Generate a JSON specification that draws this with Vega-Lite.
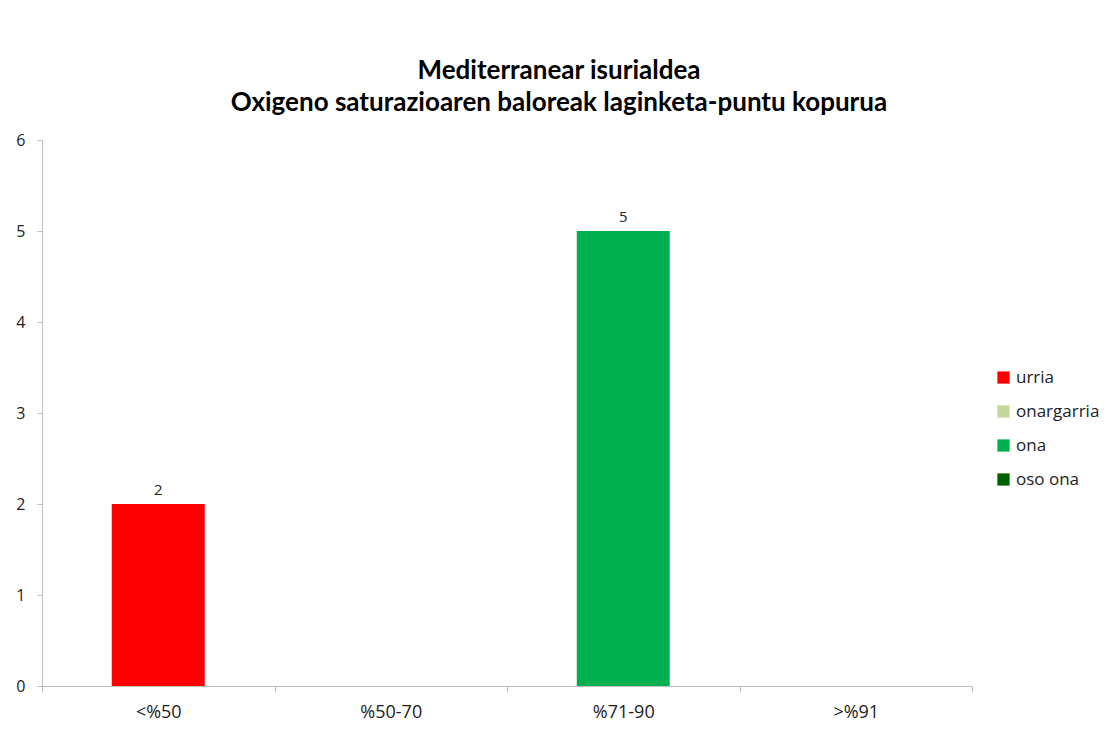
{
  "$schema": "https://vega.github.io/schema/vega-lite/v6.json",
  "width": 930,
  "height": 546,
  "autosize": "none",
  "padding": {"left": 42, "top": 140, "right": 136, "bottom": 45},
  "background": "white",
  "title": {
    "text": ["Mediterranear isurialdea", "Oxigeno saturazioaren baloreak laginketa-puntu kopurua"],
    "font": "Lato",
    "fontWeight": "bold",
    "fontSize": 26,
    "color": "#000000",
    "anchor": "middle",
    "dx": 52,
    "offset": 16,
    "lineHeight": 32
  },
  "data": {
    "values": [
      {"tartea": "<%50", "klasea": "urria", "kopurua": 2},
      {"tartea": "%50-70", "klasea": "onargarria", "kopurua": 0},
      {"tartea": "%71-90", "klasea": "ona", "kopurua": 5},
      {"tartea": ">%91", "klasea": "oso ona", "kopurua": 0}
    ]
  },
  "config": {
    "view": {"stroke": null},
    "axis": {
      "labelFont": "Open Sans",
      "labelColor": "#222222",
      "domainColor": "#BFBFBF",
      "tickColor": "#BFBFBF",
      "grid": false,
      "title": null
    }
  },
  "encoding": {
    "x": {
      "field": "tartea",
      "type": "nominal",
      "sort": null,
      "scale": {"paddingInner": 0, "paddingOuter": 0},
      "axis": {"labelAngle": 0, "labelFontSize": 18, "tickBand": "extent", "tickSize": 6, "labelPadding": 11}
    },
    "y": {
      "field": "kopurua",
      "type": "quantitative",
      "scale": {"domain": [0, 6]},
      "axis": {"values": [0, 1, 2, 3, 4, 5, 6], "labelFontSize": 16, "tickSize": 5, "labelPadding": 12}
    }
  },
  "layer": [
    {
      "mark": {"type": "bar", "width": {"band": 0.4}},
      "encoding": {
        "color": {
          "field": "klasea",
          "type": "nominal",
          "sort": ["urria", "onargarria", "ona", "oso ona"],
          "scale": {
            "domain": ["urria", "onargarria", "ona", "oso ona"],
            "range": ["#FF0000", "#C4D79B", "#00B050", "#006100"]
          },
          "legend": {
            "title": null,
            "orient": "none",
            "legendX": 953,
            "legendY": 229,
            "symbolType": "square",
            "symbolSize": 150,
            "symbolStrokeWidth": 0,
            "labelFont": "Open Sans",
            "labelFontSize": 17,
            "labelColor": "#222222",
            "rowPadding": 16,
            "labelOffset": 4
          }
        }
      }
    },
    {
      "transform": [{"filter": "datum.kopurua > 0"}],
      "mark": {"type": "text", "dy": -14, "font": "Open Sans", "fontSize": 15, "color": "#222222"},
      "encoding": {"text": {"field": "kopurua", "type": "quantitative"}}
    }
  ]
}
